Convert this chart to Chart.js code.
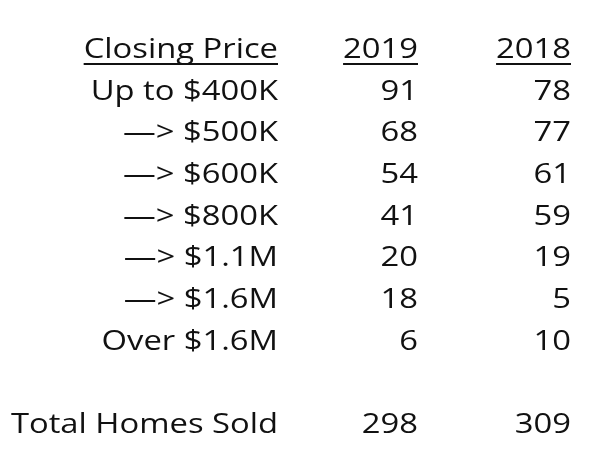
<!DOCTYPE html>
<html><head><meta charset="utf-8">
<script src="https://cdn.jsdelivr.net/npm/chart.js@4"></script>
<style>html,body{margin:0;padding:0;background:#fff}#c{display:block}</style>
</head><body>
<div style="width:604px;height:467px"><canvas id="c"></canvas></div>
<script>
const headers = ["Closing Price", "2019", "2018"];
const categories = ["Up to $400K", "—> $500K", "—> $600K", "—> $800K", "—> $1.1M", "—> $1.6M", "Over $1.6M"];
const values2019 = [91, 68, 54, 41, 20, 18, 6];
const values2018 = [78, 77, 61, 59, 19, 5, 10];
const totalLabel = "Total Homes Sold";
const total2019 = 298;
const total2018 = 309;

const colX = [278, 418, 571];
const rows = [headers];
categories.forEach((c, i) => rows.push([c, String(values2019[i]), String(values2018[i])]));
rows.push(null);
rows.push([totalLabel, String(total2019), String(total2018)]);

const pts = [];
rows.forEach((r, i) => { if (r) colX.forEach(x => pts.push({x, y: i})); });

const SX = 1.17;
const textPlugin = {
  id: 'tbl',
  afterDatasetsDraw(chart) {
    const {ctx, scales: {x, y}} = chart;
    ctx.save();
    ctx.fillStyle = '#111';
    ctx.strokeStyle = '#111';
    ctx.lineWidth = 2;
    ctx.font = '28px "Open Sans", sans-serif';
    ctx.textAlign = 'right';
    ctx.textBaseline = 'middle';
    rows.forEach((r, i) => {
      if (!r) return;
      const py = y.getPixelForValue(i);
      r.forEach((t, j) => {
        const px = x.getPixelForValue(colX[j]);
        ctx.save();
        ctx.translate(px, py);
        ctx.scale(SX, 1);
        ctx.fillText(t, 0, 0);
        ctx.restore();
        if (i === 0) {
          const w = ctx.measureText(t).width * SX;
          ctx.beginPath(); ctx.moveTo(px - w, py + 14); ctx.lineTo(px, py + 14); ctx.stroke();
        }
      });
    });
    ctx.restore();
  }
};

new Chart(document.getElementById('c'), {
  type: 'scatter',
  data: { datasets: [{ data: pts, pointRadius: 0 }] },
  options: {
    responsive: true, maintainAspectRatio: false, animation: false,
    layout: { padding: 0 },
    plugins: { legend: { display: false }, tooltip: { enabled: false } },
    scales: {
      x: { display: false, min: 0, max: 604 },
      y: { display: false, min: -1.2, max: 10.0, reverse: true }
    }
  },
  plugins: [textPlugin]
});
</script>
</body></html>
